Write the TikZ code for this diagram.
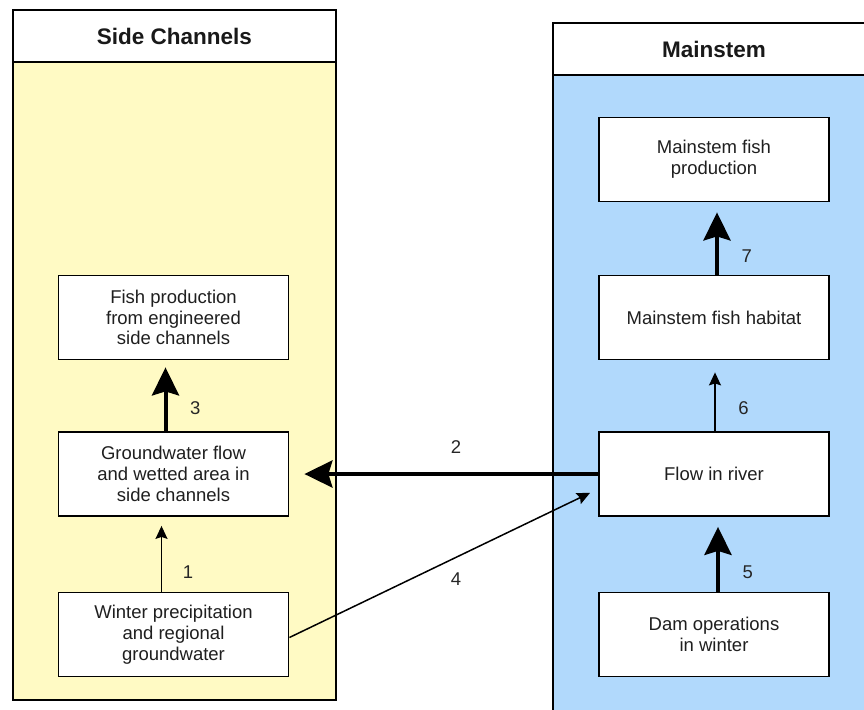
\documentclass[tikz,border=0pt]{standalone}
\usepackage{fontspec}
\setmainfont{Liberation Sans}
\usetikzlibrary{arrows.meta,positioning,calc}
\definecolor{sideyellow}{RGB}{255,250,196}
\definecolor{mainblue}{RGB}{177,217,252}

\begin{document}
\begin{tikzpicture}[
  x=0.5pt, y=-0.5pt,
  box/.style={draw, line width=0.9pt, fill=white, align=center,
    minimum width=115pt, minimum height=42pt, inner sep=2pt,
    font=\fontsize{9.25}{10.4}\selectfont, text=black!88},
  panel/.style={draw, line width=0.9pt},
  hdr/.style={font=\fontsize{11.25}{13}\selectfont\bfseries, text=black!90},
  arr/.style={-{Stealth[length=6.5pt, width=6pt, inset=1pt]}, line width=0.75pt},
  bigarr/.style={-{Stealth[length=14pt, width=13.5pt, inset=2pt]}, line width=2pt},
  lbl/.style={font=\fontsize{9.25}{10.4}\selectfont, text=black!85}
]
\useasboundingbox (0,0) rectangle (864,709);
\clip (0,0) rectangle (864,709);

% ── panels ───────────────────────────────────────────────────────────────
\draw[panel, fill=sideyellow] (13,10) rectangle (336,700);
\draw[panel, fill=white] (13,10) rectangle (336,62);
\node[hdr] (hside) at (174.5,36) {Side Channels};

\draw[panel, fill=mainblue] (553,23) rectangle (876,713);
\draw[panel, fill=white] (553,23) rectangle (876,75);
\node[hdr] (hmain) at (714,49) {Mainstem};

% ── side channel boxes ───────────────────────────────────────────────────
\node[box] (fishside) at (173.5,317.5) {Fish production\\ from engineered\\ side channels};
\node[box] (gwflow) at (173.5,474) {Groundwater flow\\ and wetted area in\\ side channels};
\node[box] (winter) at (173.5,634.5) {Winter precipitation\\ and regional\\ groundwater};

% ── mainstem boxes ───────────────────────────────────────────────────────
\node[box] (mainprod) at (714,159.5) {Mainstem fish\\ production};
\node[box] (habitat) at (714,317.5) {Mainstem fish habitat};
\node[box] (flow) at (714,474) {Flow in river};
\node[box] (dam) at (714,634.5) {Dam operations\\ in winter};

% ── links ────────────────────────────────────────────────────────────────
\draw[arr, shorten >=4.5pt] ([xshift=-6pt]winter.north) -- ([xshift=-6pt]gwflow.south)
  node[lbl, pos=0.26, right=7pt] {1};
\draw[bigarr, shorten >=7.5pt] (flow.west) -- (gwflow.east)
  node[lbl, pos=0.46, above=6pt] {2};
\draw[bigarr, shorten >=3.5pt] ([xshift=-4pt]gwflow.north) -- ([xshift=-4pt]fishside.south)
  node[lbl, pos=0.33, right=8pt] {3};
\draw[arr, shorten >=4.5pt] ([yshift=-1.5pt]winter.east) -- ([yshift=-7.5pt]flow.west)
  node[lbl, pos=0.54, below=4pt] {4};
\draw[bigarr, shorten >=5pt] ([xshift=2pt]dam.north) -- ([xshift=2pt]flow.south)
  node[lbl, pos=0.26, right=8pt] {5};
\draw[arr, shorten >=6pt] ([xshift=0.5pt]flow.north) -- ([xshift=0.5pt]habitat.south)
  node[lbl, pos=0.33, right=8pt] {6};
\draw[bigarr, shorten >=5pt] ([xshift=1.5pt]habitat.north) -- ([xshift=1.5pt]mainprod.south)
  node[lbl, pos=0.26, right=8pt] {7};

\end{tikzpicture}
\end{document}
